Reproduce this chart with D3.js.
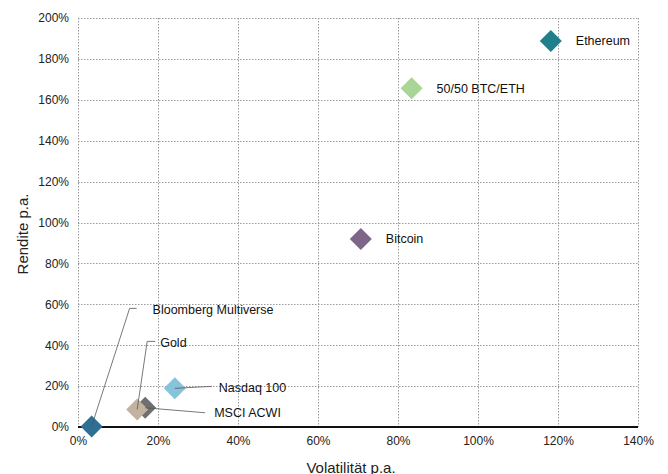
<!DOCTYPE html>
<html>
<head>
<meta charset="utf-8">
<script src="https://cdn.jsdelivr.net/npm/d3@7"></script>
<style>
  body { margin: 0; background: #fff; }
  svg { display: block; font-family: "Liberation Sans", Arial, sans-serif; }
</style>
</head>
<body>
<svg id="chart" width="668" height="474"></svg>
<script>
// Data (percent values)
const names = ['MSCI ACWI', 'Gold', 'Bloomberg Multiverse', 'Nasdaq 100', 'Bitcoin', '50/50 BTC/ETH', 'Ethereum'];
const volatility = [16.8, 14.8, 3.4, 24.2, 70.7, 83.4, 118.2];
const returns = [9.4, 8.6, 0.3, 18.9, 91.9, 165.7, 188.7];
const colors = ['#6f6f6f', '#c3b2a0', '#2e6f94', '#88c3dc', '#7e6688', '#a9d597', '#1f7f8a'];
const xTicks = [0, 20, 40, 60, 80, 100, 120, 140];
const yTicks = [0, 20, 40, 60, 80, 100, 120, 140, 160, 180, 200];

const points = names.map((name, i) => ({name, x: volatility[i], y: returns[i], color: colors[i]}));

// Label placement: direct labels sit right of the marker, the crowded ones get leader lines
// (offsets in px from the marker centre; elbow = leader line bend, end = leader line end)
const labelConf = {
  'Ethereum': {dx: 25, dy: 0},
  '50/50 BTC/ETH': {dx: 25, dy: 0},
  'Bitcoin': {dx: 25, dy: 0},
  'Nasdaq 100': {dx: 44, dy: -1, end: [37, -2]},
  'MSCI ACWI': {dx: 69, dy: 5, end: [60, 5]},
  'Gold': {dx: 23, dy: -67, elbow: [10, -68], end: [18, -68]},
  'Bloomberg Multiverse': {dx: 61, dy: -117, elbow: [38, -118], end: [45, -118]},
};

const width = 668, height = 474;
const margin = {top: 18, right: 30, bottom: 47, left: 78};

const svg = d3.select('#chart');

const xScale = d3.scaleLinear().domain([0, 140]).range([margin.left, width - margin.right]);
const yScale = d3.scaleLinear().domain([0, 200]).range([height - margin.bottom, margin.top]);

// Dotted grid, including the frame lines
const grid = svg.append('g')
  .attr('stroke', '#9a9a9a')
  .attr('stroke-width', 1)
  .attr('stroke-dasharray', '1.5 1.5');

grid.selectAll('line.v')
  .data(xTicks)
  .join('line')
  .attr('x1', d => Math.round(xScale(d)) + 0.5)
  .attr('x2', d => Math.round(xScale(d)) + 0.5)
  .attr('y1', yScale(200))
  .attr('y2', yScale(0));

grid.selectAll('line.h')
  .data(yTicks.filter(d => d > 0))
  .join('line')
  .attr('x1', xScale(0))
  .attr('x2', xScale(140))
  .attr('y1', d => Math.round(yScale(d)) + 0.5)
  .attr('y2', d => Math.round(yScale(d)) + 0.5);

// Axes (tick labels only)
const xAxis = d3.axisBottom(xScale)
  .tickValues(xTicks)
  .tickSize(0)
  .tickPadding(9)
  .tickFormat(d => `${d}%`);

const yAxis = d3.axisLeft(yScale)
  .tickValues(yTicks)
  .tickSize(0)
  .tickPadding(9)
  .tickFormat(d => `${d}%`);

svg.append('g')
  .attr('transform', `translate(0,${yScale(0)})`)
  .call(xAxis)
  .call(g => g.select('.domain').remove())
  .call(g => g.selectAll('text').attr('font-size', 12).attr('fill', '#222').attr('font-family', null));

svg.append('g')
  .attr('transform', `translate(${xScale(0)},0)`)
  .call(yAxis)
  .call(g => g.select('.domain').remove())
  .call(g => g.selectAll('text').attr('font-size', 12).attr('fill', '#222').attr('font-family', null));

// Solid zero line
svg.append('line')
  .attr('x1', xScale(0))
  .attr('x2', xScale(140))
  .attr('y1', yScale(0))
  .attr('y2', yScale(0))
  .attr('stroke', '#111')
  .attr('stroke-width', 2);

// Axis titles (the x title is clipped by the bottom edge, as in the original)
svg.append('text')
  .attr('x', 351)
  .attr('y', 473)
  .attr('text-anchor', 'middle')
  .attr('font-size', 15)
  .attr('fill', '#222')
  .text('Volatilität p.a.');

svg.append('text')
  .attr('transform', `translate(28,234) rotate(-90)`)
  .attr('text-anchor', 'middle')
  .attr('font-size', 15)
  .attr('fill', '#222')
  .text('Rendite p.a.');

// Diamond markers
const diamond = d3.symbol().type(d3.symbolSquare).size(242);
svg.selectAll('path.marker')
  .data(points)
  .join('path')
  .classed('marker', true)
  .attr('d', diamond)
  .attr('transform', d => `translate(${xScale(d.x)},${yScale(d.y)}) rotate(45)`)
  .attr('fill', d => d.color);

// Leader lines
svg.selectAll('path.leader')
  .data(points.filter(d => labelConf[d.name].end))
  .join('path')
  .classed('leader', true)
  .attr('fill', 'none')
  .attr('stroke', '#555')
  .attr('stroke-width', 0.8)
  .attr('d', d => {
    const c = labelConf[d.name];
    const cx = xScale(d.x), cy = yScale(d.y);
    const pts = [[cx, cy]];
    if (c.elbow) pts.push([cx + c.elbow[0], cy + c.elbow[1]]);
    pts.push([cx + c.end[0], cy + c.end[1]]);
    return d3.line()(pts);
  });

// Labels
svg.selectAll('text.label')
  .data(points)
  .join('text')
  .classed('label', true)
  .attr('x', d => xScale(d.x) + labelConf[d.name].dx)
  .attr('y', d => yScale(d.y) + labelConf[d.name].dy)
  .attr('dy', '0.35em')
  .attr('font-size', 12.5)
  .attr('fill', '#111')
  .text(d => d.name);
</script>
</body>
</html>
